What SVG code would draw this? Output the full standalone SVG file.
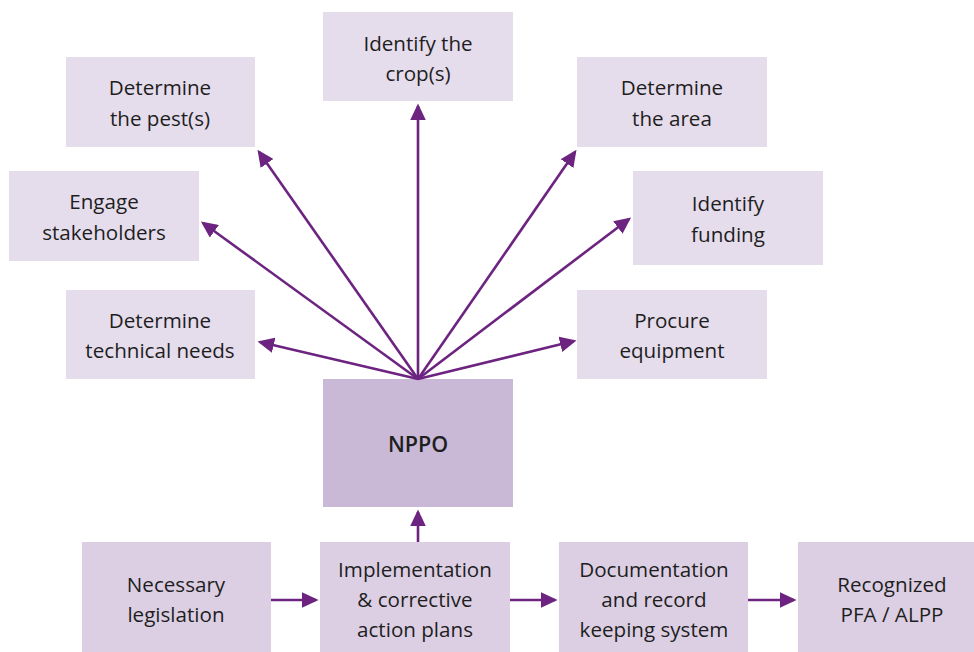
<svg xmlns="http://www.w3.org/2000/svg" width="974" height="652" viewBox="0 0 974 652">
<defs>
<marker id="ah" markerWidth="6.4" markerHeight="6" refX="5.4" refY="3" orient="auto" markerUnits="strokeWidth">
<path d="M0,0 L6.4,3 L0,6 Z" fill="#6d2480"/>
</marker>
<style>
.b{fill:#e5dcec}
.d{fill:#dccfe4}
.n{fill:#c9b8d6}
text{font-family:"Open Sans","Noto Sans",sans-serif;font-size:20.6px;fill:#1e1e1e;text-anchor:middle}
.c line{stroke:#6d2480;stroke-width:2.6;marker-end:url(#ah)}
</style>
</defs>
<rect width="974" height="652" fill="#fff"/>
<g id="crop"><rect class="b" x="323" y="12" width="190" height="89"/><text x="418" y="51">Identify the</text><text x="418" y="81">crop(s)</text></g>
<g id="pest"><rect class="b" x="66" y="57" width="189" height="90"/><text x="160" y="95">Determine</text><text x="160" y="126">the pest(s)</text></g>
<g id="area"><rect class="b" x="577" y="57" width="190" height="90"/><text x="672" y="95">Determine</text><text x="672" y="126">the area</text></g>
<g id="stake"><rect class="b" x="9" y="171" width="190" height="90"/><text x="104" y="209">Engage</text><text x="104" y="240">stakeholders</text></g>
<g id="fund"><rect class="b" x="633" y="171" width="190" height="94"/><text x="728" y="211">Identify</text><text x="728" y="242">funding</text></g>
<g id="tech"><rect class="b" x="66" y="290" width="189" height="89"/><text x="160" y="328">Determine</text><text x="160" y="358">technical needs</text></g>
<g id="proc"><rect class="b" x="577" y="290" width="190" height="89"/><text x="672" y="328">Procure</text><text x="672" y="358">equipment</text></g>
<g id="nppo"><rect class="n" x="323" y="379" width="190" height="128"/><text x="418" y="452" style="font-weight:600;font-size:21.5px">NPPO</text></g>
<g id="legis"><rect class="d" x="82" y="542" width="189" height="110"/><text x="176" y="592">Necessary</text><text x="176" y="622">legislation</text></g>
<g id="impl"><rect class="d" x="320" y="542" width="190" height="110"/><text x="415" y="577">Implementation</text><text x="415" y="607">&amp; corrective</text><text x="415" y="637">action plans</text></g>
<g id="doc"><rect class="d" x="559" y="542" width="189" height="110"/><text x="654" y="577">Documentation</text><text x="654" y="607">and record</text><text x="654" y="637">keeping system</text></g>
<g id="pfa"><rect class="d" x="798" y="542" width="176" height="110"/><text x="892" y="592">Recognized</text><text x="892" y="622">PFA ∕ ALPP</text></g>
<g class="c" id="connectors">
<line x1="418" y1="379" x2="259" y2="152"/>
<line x1="418" y1="379" x2="418" y2="106"/>
<line x1="418" y1="379" x2="575" y2="152"/>
<line x1="418" y1="379" x2="203" y2="223"/>
<line x1="418" y1="379" x2="629" y2="219"/>
<line x1="418" y1="379" x2="260" y2="342"/>
<line x1="418" y1="379" x2="574" y2="341"/>
<line x1="418" y1="542" x2="418" y2="512"/>
<line x1="271" y1="600" x2="316" y2="600"/>
<line x1="510" y1="600" x2="555" y2="600"/>
<line x1="748" y1="600" x2="794" y2="600"/>
</g>
</svg>
